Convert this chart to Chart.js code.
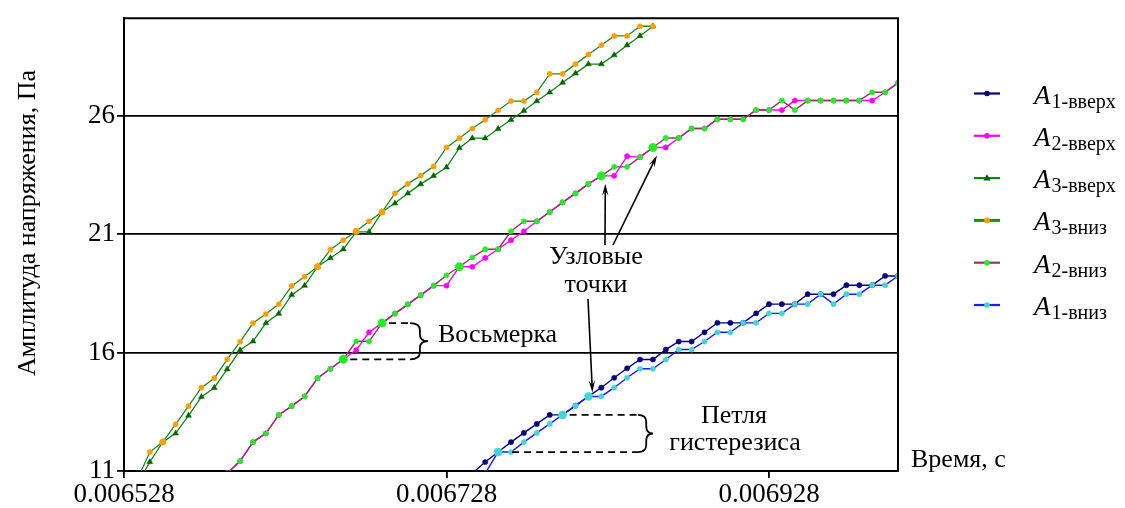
<!DOCTYPE html>
<html>
<head>
<meta charset="utf-8">
<script src="https://cdn.jsdelivr.net/npm/chart.js@4.4.1/dist/chart.umd.min.js"></script>
<style>
  html, body { margin: 0; padding: 0; background: #fff; }
  canvas { display: block; }
</style>
</head>
<body>
<canvas id="chart" width="1125" height="508"></canvas>
<script>
// Time samples, s (one every 8 µs)
const time = [
  0.006528, 0.006536, 0.006544, 0.006552, 0.006560, 0.006568, 0.006576, 0.006584, 0.006592, 0.006600,
  0.006608, 0.006616, 0.006624, 0.006632, 0.006640, 0.006648, 0.006656, 0.006664, 0.006672, 0.006680,
  0.006688, 0.006696, 0.006704, 0.006712, 0.006720, 0.006728, 0.006736, 0.006744, 0.006752, 0.006760,
  0.006768, 0.006776, 0.006784, 0.006792, 0.006800, 0.006808, 0.006816, 0.006824, 0.006832, 0.006840,
  0.006848, 0.006856, 0.006864, 0.006872, 0.006880, 0.006888, 0.006896, 0.006904, 0.006912, 0.006920,
  0.006928, 0.006936, 0.006944, 0.006952, 0.006960, 0.006968, 0.006976, 0.006984, 0.006992, 0.007000,
  0.007008
];

const xTicks = [0.006528, 0.006728, 0.006928];
const yTicks = [11, 16, 21, 26];

// first sample index of each curve
const a1UpFrom = 27, a1DownFrom = 28;
const a2UpFrom = 8,  a2DownFrom = 8;
const a3UpFrom = 1,  a3DownFrom = 1;

// amplitude, Pa
const a1Up = [10.9, 11.38, 11.80, 12.22, 12.61, 12.99, 13.37, 13.37, 13.76, 14.15, 14.52, 14.94, 15.34, 15.71, 15.71,
  16.13, 16.47, 16.47, 16.86, 17.26, 17.26, 17.26, 17.66, 18.05, 18.05, 18.05, 18.47, 18.47, 18.47, 18.85, 18.85,
  18.85, 19.24, 19.24];
const a1Down = [10.9, 11.80, 11.80, 12.22, 12.61, 12.99, 13.37, 13.76, 14.15, 14.15, 14.52, 14.94, 15.32, 15.32,
  15.71, 16.13, 16.13, 16.47, 16.86, 16.86, 17.26, 17.26, 17.66, 17.66, 18.05, 18.05, 18.47, 18.05, 18.47, 18.47,
  18.85, 18.85, 19.24];
const a2Up = [10.9, 11.42, 12.22, 12.59, 13.37, 13.74, 14.15, 14.92, 15.32, 15.72, 16.11, 16.86, 17.25, 17.65, 18.04,
  18.43, 18.83, 18.83, 19.63, 19.63, 20.0, 20.37, 20.75, 21.13, 21.55, 21.94, 22.35, 22.73, 23.13, 23.47, 23.47,
  24.30, 24.26, 24.67, 24.67, 25.07, 25.47, 25.47, 25.86, 25.86, 25.86, 26.25, 26.25, 26.25, 26.65, 26.65, 26.65,
  26.65, 26.65, 26.65, 26.65, 27.0, 27.40];
const a2Down = [10.9, 11.42, 12.22, 12.59, 13.37, 13.74, 14.15, 14.92, 15.32, 15.72, 16.48, 16.48, 17.25, 17.65, 18.04,
  18.43, 18.83, 19.27, 19.63, 20.02, 20.37, 20.37, 21.13, 21.55, 21.55, 21.94, 22.35, 22.73, 23.13, 23.47, 23.85,
  23.85, 24.26, 24.67, 25.07, 25.07, 25.47, 25.47, 25.86, 25.86, 25.86, 26.25, 26.25, 26.65, 26.25, 26.65, 26.65,
  26.65, 26.65, 26.65, 27.0, 27.0, 27.40];
const a3Up = [10.4, 11.38, 12.22, 12.59, 13.34, 14.13, 14.52, 15.30, 16.11, 16.48, 17.25, 17.65, 18.44, 18.83, 19.63,
  20.0, 20.37, 21.1, 21.1, 21.94, 22.31, 22.73, 23.12, 23.47, 23.83, 24.65, 25.06, 25.06, 25.46, 25.84, 26.22, 26.63,
  27.0, 27.41, 27.80, 28.19, 28.19, 28.57, 28.99, 29.38, 29.79];
const a3Down = [10.6, 11.80, 12.22, 12.97, 13.74, 14.52, 14.92, 15.72, 16.46, 17.25, 17.63, 18.05, 18.82, 19.21, 19.63,
  20.35, 20.75, 21.13, 21.55, 21.94, 22.73, 23.13, 23.48, 23.87, 24.67, 25.06, 25.47, 25.84, 26.24, 26.63, 26.63,
  27.0, 27.78, 27.78, 28.19, 28.60, 28.99, 29.38, 29.38, 29.79, 29.79];

const labels = ['1-вверх', '2-вверх', '3-вверх', '3-вниз', '2-вниз', '1-вниз'];

const SERIF = '"Liberation Serif", "Times New Roman", serif';

const pts = (vals, from) => vals.map((v, i) => ({ x: time[from + i], y: v }));
const val = (vals, from, t) => vals[t - from];

// nodal points get a bigger marker
const nodesA1 = [29, 34, 36];
const nodesA2 = [17, 20, 26, 37, 41];
const nodesA3 = [3, 15, 18, 20];

function makeSet(label, vals, from, line, marker, shape, nodes, nodeR, width, order) {
  return {
    label: label,
    data: pts(vals, from),
    borderColor: line,
    borderWidth: width,
    backgroundColor: marker,
    pointBackgroundColor: marker,
    pointBorderColor: marker,
    pointBorderWidth: 0.5,
    pointStyle: shape,
    pointRadius: c => nodes.includes(c.dataIndex + from) ? nodeR : (shape === 'triangle' ? 3.4 : 2.6),
    tension: 0,
    clip: 0,
    order: order
  };
}

const sets = [
  makeSet(labels[0], a1Up, a1UpFrom, '#000080', '#000080', 'circle', [], 0, 1.4, 2),
  makeSet(labels[1], a2Up, a2UpFrom, '#ff00ff', '#ff00ff', 'circle', [], 0, 1.4, 2),
  makeSet(labels[2], a3Up, a3UpFrom, '#118811', '#006400', 'triangle', [], 0, 1.3, 2),
  makeSet(labels[3], a3Down, a3DownFrom, '#1f8a1f', '#ffa000', 'circle', nodesA3, 3.2, 1.3, 1),
  makeSet(labels[4], a2Down, a2DownFrom, '#993366', '#22ee22', 'circle', nodesA2, 4.2, 1.4, 1),
  makeSet(labels[5], a1Down, a1DownFrom, '#1a1aff', '#40d8d0', 'circle', nodesA1, 4.0, 1.4, 1)
];

function marker(ctx, shape, x, y, r, color) {
  ctx.fillStyle = color;
  ctx.beginPath();
  if (shape === 'triangle') {
    ctx.moveTo(x, y - r * 1.1);
    ctx.lineTo(x + r, y + r * 0.7);
    ctx.lineTo(x - r, y + r * 0.7);
    ctx.closePath();
  } else {
    ctx.arc(x, y, r, 0, Math.PI * 2);
  }
  ctx.fill();
}

function arrow(ctx, x1, y1, x2, y2) {
  const a = Math.atan2(y2 - y1, x2 - x1), L = 12, W = 3.2;
  const c = Math.cos(a), s = Math.sin(a);
  ctx.beginPath();
  ctx.moveTo(x1, y1);
  ctx.lineTo(x2 - L * 0.6 * c, y2 - L * 0.6 * s);
  ctx.stroke();
  ctx.beginPath();
  ctx.moveTo(x2, y2);
  ctx.lineTo(x2 - L * c + W * s, y2 - L * s - W * c);
  ctx.lineTo(x2 - L * 0.6 * c, y2 - L * 0.6 * s);
  ctx.lineTo(x2 - L * c - W * s, y2 - L * s + W * c);
  ctx.closePath();
  ctx.fill();
}

function brace(ctx, x0, yt, yb, w) {
  const xm = x0 + w * 0.55, xt = x0 + w, ym = (yt + yb) / 2, r = Math.min(7, (yb - yt) / 4);
  ctx.beginPath();
  ctx.moveTo(x0, yt);
  ctx.quadraticCurveTo(xm, yt, xm, yt + r);
  ctx.lineTo(xm, ym - r);
  ctx.quadraticCurveTo(xm, ym, xt, ym);
  ctx.quadraticCurveTo(xm, ym, xm, ym + r);
  ctx.lineTo(xm, yb - r);
  ctx.quadraticCurveTo(xm, yb, x0, yb);
  ctx.stroke();
}

const decor = {
  id: 'decor',
  afterDatasetsDraw(chart) {
    const { ctx, chartArea: a, scales: { x, y } } = chart;
    const at = (vals, from, t) => ({ x: x.getPixelForValue(time[t]), y: y.getPixelForValue(val(vals, from, t)) });

    ctx.save();
    // frame top / right
    ctx.strokeStyle = '#000';
    ctx.lineWidth = 2;
    ctx.beginPath();
    ctx.moveTo(a.left, a.top);
    ctx.lineTo(a.right, a.top);
    ctx.lineTo(a.right, a.bottom);
    ctx.stroke();

    ctx.fillStyle = '#000';
    ctx.lineWidth = 1.8;

    // "Восьмерка" bracket
    const e1 = at(a2Down, a2DownFrom, 20), e2 = at(a2Down, a2DownFrom, 17);
    ctx.setLineDash([7, 5]);
    ctx.beginPath();
    ctx.moveTo(e1.x + 7, e1.y); ctx.lineTo(410, e1.y);
    ctx.moveTo(e2.x + 7, e2.y); ctx.lineTo(410, e2.y);
    ctx.stroke();
    ctx.setLineDash([]);
    brace(ctx, 410, e1.y, e2.y, 18);

    // "Петля гистерезиса" bracket
    const h1 = at(a1Down, a1DownFrom, 34), h2 = at(a1Down, a1DownFrom, 29);
    ctx.setLineDash([7, 5]);
    ctx.beginPath();
    ctx.moveTo(h1.x + 7, h1.y); ctx.lineTo(638, h1.y);
    ctx.moveTo(h2.x + 14, h2.y); ctx.lineTo(638, h2.y);
    ctx.stroke();
    ctx.setLineDash([]);
    brace(ctx, 638, h1.y, h2.y, 15);

    // arrows to nodal points
    ctx.lineWidth = 1.6;
    const n1 = at(a2Down, a2DownFrom, 37), n2 = at(a2Down, a2DownFrom, 41), n3 = at(a1Down, a1DownFrom, 36);
    arrow(ctx, 605, 245, n1.x + 4, n1.y + 8);
    arrow(ctx, 613, 245, n2.x + 4, n2.y + 8);
    arrow(ctx, 588, 299, n3.x + 4, n3.y - 4);

    // texts
    ctx.font = '26px ' + SERIF;
    ctx.textBaseline = 'alphabetic';
    ctx.textAlign = 'left';
    ctx.fillText('Восьмерка', 438, 342);
    ctx.textAlign = 'center';
    ctx.fillText('Узловые', 596, 264);
    ctx.fillText('точки', 596, 292);
    ctx.fillText('Петля', 734, 423);
    ctx.fillText('гистерезиса', 735, 450);
    ctx.textAlign = 'left';
    ctx.fillText('Время, с', 911, 467);

    // y axis title
    ctx.save();
    ctx.translate(28, 223);
    ctx.rotate(-Math.PI / 2);
    ctx.textAlign = 'center';
    ctx.textBaseline = 'middle';
    ctx.fillText('Амплитуда напряжения, Па', 0, 0);
    ctx.restore();

    // legend
    chart.data.datasets.forEach((ds, i) => {
      const ly = 93.5 + i * 42.3;
      ctx.strokeStyle = ds.borderColor;
      ctx.lineWidth = i === 3 ? 3 : 2.2;
      ctx.beginPath();
      ctx.moveTo(974, ly);
      ctx.lineTo(1000, ly);
      ctx.stroke();
      marker(ctx, ds.pointStyle, 987, ly, ds.pointStyle === 'triangle' ? 3.6 : 2.8, ds.pointBackgroundColor);
      ctx.fillStyle = '#000';
      ctx.textAlign = 'left';
      ctx.font = 'italic 27px ' + SERIF;
      ctx.fillText('A', 1034, ly + 10);
      const w = ctx.measureText('A').width;
      ctx.font = '20px ' + SERIF;
      ctx.fillText(ds.label, 1034 + w + 1, ly + 14);
    });
    ctx.restore();
  }
};

const tickFont = { family: SERIF, size: 27 };

new Chart(document.getElementById('chart'), {
  type: 'line',
  data: { datasets: sets },
  options: {
    responsive: false,
    animation: false,
    events: [],
    layout: { padding: { top: 15, right: 227, left: 0, bottom: 0 } },
    plugins: { legend: { display: false }, tooltip: { enabled: false } },
    scales: {
      x: {
        type: 'linear',
        min: time[0],
        max: time[time.length - 1],
        afterBuildTicks: s => { s.ticks = xTicks.map(v => ({ value: v })); },
        afterFit: s => { s.height = 37; },
        grid: { drawOnChartArea: false, drawTicks: true, tickLength: 7, color: '#000', lineWidth: 1.8 },
        border: { color: '#000', width: 2 },
        ticks: { color: '#000', font: tickFont, padding: 1, maxRotation: 0, autoSkip: false,
          callback: v => Number(v).toFixed(6) }
      },
      y: {
        min: 11,
        max: 30.13,
        afterBuildTicks: s => { s.ticks = yTicks.map(v => ({ value: v })); },
        afterFit: s => { s.width = 124; },
        grid: { color: '#000', lineWidth: 1.8, tickLength: 7 },
        border: { color: '#000', width: 2 },
        ticks: { color: '#000', font: tickFont, padding: 2, callback: v => String(v) }
      }
    }
  },
  plugins: [decor]
});
</script>
</body>
</html>
